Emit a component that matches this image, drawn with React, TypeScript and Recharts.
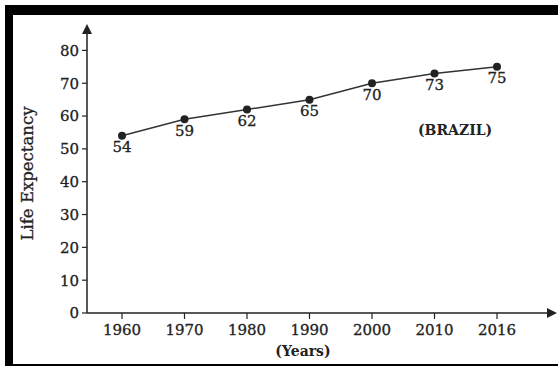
import React from 'react';
import { LineChart, Line, XAxis, YAxis, LabelList } from 'recharts';

const years = ['1960', '1970', '1980', '1990', '2000', '2010', '2016'];
const lifeExpectancy = [54, 59, 62, 65, 70, 73, 75];
const yTicks = [0, 10, 20, 30, 40, 50, 60, 70, 80];

const data = years.map((year, i) => ({ year, value: lifeExpectancy[i] }));

const ink = '#222';
const font = '"DejaVu Serif", "Liberation Serif", serif';
// slight stroke to mimic the heavier print of the scan
const heavy = { stroke: ink, strokeWidth: 0.3 };

export default function App() {
  return (
    <div style={{ position: 'absolute', left: 0, top: 0, width: 558, height: 366, background: '#fff', overflow: 'hidden' }}>
      {/* scanned page frame */}
      <div
        style={{
          position: 'absolute',
          left: 5,
          top: 5,
          width: 553,
          height: 361,
          boxSizing: 'border-box',
          borderTop: '10px solid #000',
          borderLeft: '8px solid #000',
          borderBottom: '2px solid #000',
        }}
      />
      <div
        style={{
          position: 'absolute',
          left: 418,
          top: 122,
          fontFamily: font,
          fontWeight: 'bold',
          fontSize: 14,
          color: ink,
        }}
      >
        (BRAZIL)
      </div>
      <div style={{ position: 'absolute', left: 0, top: 0 }}>
        <LineChart width={558} height={366} data={data} margin={{ top: 34, right: 11, bottom: 8, left: 13 }}>
          <defs>
            <marker id="arrow" viewBox="0 0 10 10" refX="0" refY="5" markerWidth="10" markerHeight="10" markerUnits="userSpaceOnUse" orient="auto-start-reverse">
              <path d="M0,0 L10,5 L0,10 z" fill={ink} />
            </marker>
          </defs>
          <XAxis
            dataKey="year"
            height={45}
            padding={{ left: 35, right: 50 }}
            axisLine={{ stroke: ink, strokeWidth: 1.5, markerEnd: 'url(#arrow)' }}
            tickLine={{ stroke: ink, strokeWidth: 1.2 }}
            tickSize={6}
            tickMargin={5}
            tick={{ fill: ink, fontSize: 15, fontFamily: font, ...heavy }}
            label={{ value: '(Years)', position: 'insideBottom', offset: 2, dx: -14, fill: ink, fontSize: 14, fontFamily: font, fontWeight: 'bold' }}
          />
          <YAxis
            width={74}
            domain={[0, 85]}
            ticks={yTicks}
            interval={0}
            axisLine={{ stroke: ink, strokeWidth: 1.5, markerStart: 'url(#arrow)' }}
            tickLine={{ stroke: ink, strokeWidth: 1.2 }}
            tickSize={5}
            tickMargin={3}
            tick={{ fill: ink, fontSize: 15, fontFamily: font, ...heavy }}
            label={{ value: 'Life Expectancy', angle: -90, position: 'center', dx: -23, fill: ink, fontSize: 16.5, fontFamily: font, ...heavy }}
          />
          <Line
            type="linear"
            dataKey="value"
            stroke="#333"
            strokeWidth={1.5}
            dot={{ r: 4, fill: ink, stroke: ink, strokeWidth: 0 }}
            isAnimationActive={false}
          >
            <LabelList dataKey="value" position="bottom" offset={6} fill={ink} fontSize={15} fontFamily={font} {...heavy} />
          </Line>
        </LineChart>
      </div>
    </div>
  );
}
